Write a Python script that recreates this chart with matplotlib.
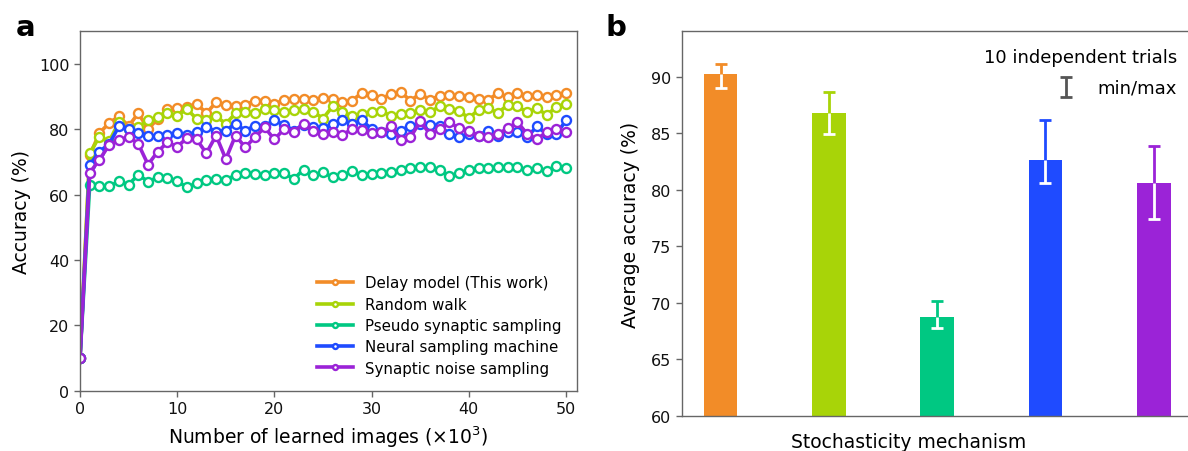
import numpy as np
import matplotlib
matplotlib.use('Agg')
import matplotlib.pyplot as plt

#training curves, one point per thousand learned images
n_images = list(range(0, 51))
delay_model = [10, 72.0, 78.9, 81.9, 84.0, 81.0, 84.9, 80.1, 83.2, 86.2, 86.5, 86.7, 87.9,
               84.9, 88.3, 87.5, 87.1, 87.5, 88.8, 88.8, 87.8, 89.0, 89.2, 89.4, 89.0, 89.6,
               89.3, 88.3, 88.8, 91.2, 90.4, 89.3, 90.9, 91.4, 88.8, 90.9, 89.0, 90.3, 90.5,
               90.3, 90.0, 89.4, 89.0, 91.1, 89.8, 91.1, 90.3, 90.4, 89.8, 90.4, 91.0]
random_walk = [10, 72.6, 77.8, 76.3, 82.2, 80.0, 80.8, 82.7, 83.7, 84.9, 84.2, 86.2, 83.2,
               82.9, 84.0, 81.7, 84.9, 85.2, 84.9, 86.2, 85.9, 85.4, 85.9, 86.2, 85.4, 83.3,
               87.1, 85.2, 84.2, 84.7, 85.4, 85.7, 84.0, 84.7, 84.9, 86.0, 85.2, 87.1, 86.2,
               85.7, 83.4, 86.0, 86.5, 85.0, 87.5, 87.1, 85.2, 86.5, 84.4, 86.8, 87.8]
pseudo_sampling = [10, 63.1, 62.5, 62.5, 64.1, 63.1, 66.1, 64.0, 65.3, 65.1, 64.1, 62.3, 63.5,
                   64.5, 64.8, 64.5, 66.0, 66.7, 66.4, 66.0, 66.7, 66.6, 64.8, 67.7, 66.0, 66.8,
                   65.3, 66.0, 67.1, 66.0, 66.4, 66.6, 66.9, 67.4, 68.1, 68.4, 68.4, 67.7, 65.6,
                   66.7, 67.4, 68.1, 68.1, 68.4, 68.4, 68.4, 67.4, 68.1, 67.1, 68.9, 68.1]
neural_sampling = [10, 69.1, 73.2, 75.5, 80.9, 80.1, 78.9, 78.1, 77.9, 78.4, 78.9, 78.3, 79.1,
                   80.8, 79.3, 79.6, 81.7, 79.6, 81.1, 81.1, 82.7, 81.4, 79.6, 81.4, 80.8, 80.4,
                   81.6, 82.7, 81.7, 82.7, 80.1, 79.1, 78.6, 79.6, 81.1, 81.7, 81.4, 81.1, 78.6,
                   77.6, 78.6, 78.1, 79.6, 78.1, 79.1, 79.1, 77.6, 80.9, 78.6, 78.6, 82.7]
noise_sampling = [10, 66.7, 70.7, 75.2, 76.6, 77.8, 75.5, 69.2, 73.2, 76.0, 74.7, 77.3, 76.9,
                  72.7, 78.1, 70.9, 78.1, 74.5, 77.6, 80.6, 76.9, 80.1, 79.3, 81.7, 79.6, 78.6,
                  79.3, 78.3, 80.1, 79.8, 78.8, 79.1, 80.9, 76.6, 77.6, 82.4, 78.6, 80.1, 82.2,
                  80.3, 79.6, 78.1, 77.6, 78.6, 80.3, 82.2, 78.6, 77.0, 79.1, 80.1, 79.1]

labels = ['Delay model (This work)', 'Random walk', 'Pseudo synaptic sampling',
          'Neural sampling machine', 'Synaptic noise sampling']
colors = ['#F28C28', '#A8D408', '#00C882', '#1F4BFF', '#9B23D7']

#average accuracy over 10 trials with min/max
avg_acc = [90.2, 86.8, 68.75, 82.6, 80.6]
min_acc = [89.0, 84.9, 67.8, 80.6, 77.4]
max_acc = [91.1, 88.6, 70.2, 86.2, 83.9]

plt.rcParams['font.family'] = 'DejaVu Sans'
spine_color = '#666666'

fig = plt.figure(figsize=(11.88, 4.52), dpi=100)

#panel a: accuracy during learning
ax1 = fig.add_axes([80/1188, 1 - 391.7/452, 496.7/1188, 359.4/452])
curves = [delay_model, random_walk, pseudo_sampling, neural_sampling, noise_sampling]
for vals, lab, c in zip(curves, labels, colors):
    ax1.plot(n_images, vals, '-o', color=c, lw=2.6, ms=6.5, mfc='white', mec=c,
             mew=1.7, label=lab)
ax1.set_xlim(0, 51.1)
ax1.set_ylim(0, 110)
ax1.set_xticks([0, 10, 20, 30, 40, 50])
ax1.set_yticks([0, 20, 40, 60, 80, 100])
ax1.set_xlabel('Number of learned images (×10$^{3}$)', fontsize=13.5, labelpad=5)
ax1.set_ylabel('Accuracy (%)', fontsize=13.5, labelpad=6)
ax1.legend(loc='lower right', frameon=False, fontsize=10.8, markerscale=0.55,
           handlelength=2.4, labelspacing=0.42, borderaxespad=0.6)

#panel b: final accuracy per mechanism
ax2 = fig.add_axes([681.7/1188, 1 - 417/452, 508.3/1188, 384.7/452])
xpos = np.arange(len(avg_acc))
ax2.bar(xpos, [a - 60 for a in avg_acc], bottom=60, width=0.31, color=colors, zorder=2)
for i in range(len(avg_acc)):
    up = ax2.errorbar(xpos[i], avg_acc[i], yerr=[[0], [max_acc[i] - avg_acc[i]]],
                      fmt='none', ecolor=colors[i], elinewidth=2, capsize=4,
                      capthick=2, zorder=3)
    up[1][0].set_visible(False)
    down = ax2.errorbar(xpos[i], avg_acc[i], yerr=[[avg_acc[i] - min_acc[i]], [0]],
                        fmt='none', ecolor='white', elinewidth=2, capsize=4,
                        capthick=2, zorder=3)
    down[1][1].set_visible(False)

#key for the error bars
ax2.errorbar([0.756], [0.855], yerr=[0.026], transform=ax2.transAxes, fmt='none',
             ecolor='#555555', elinewidth=2, capsize=4, capthick=2, clip_on=False)
ax2.text(0.974, 0.933, '10 independent trials', transform=ax2.transAxes,
         ha='right', va='center', fontsize=13)
ax2.text(0.974, 0.855, 'min/max', transform=ax2.transAxes,
         ha='right', va='center', fontsize=13)

ax2.set_xlim(-0.36, 4.335)
ax2.set_ylim(60, 94)
ax2.set_xticks([])
ax2.set_yticks([60, 65, 70, 75, 80, 85, 90])
ax2.set_ylabel('Average accuracy (%)', fontsize=13.5, labelpad=8)
ax2.set_xlabel('Stochasticity mechanism', fontsize=13.5)
ax2.xaxis.set_label_coords(0.446, -0.042)
ax2.spines['right'].set_visible(False)

for ax in (ax1, ax2):
    for s in ax.spines.values():
        s.set_color(spine_color)
        s.set_linewidth(1.0)
    ax.tick_params(colors=spine_color, labelcolor='#111111', labelsize=11.5,
                   length=4, width=1)

fig.text(16/1188, 1 - 36/452, 'a', fontsize=21, fontweight='bold')
fig.text(606/1188, 1 - 36/452, 'b', fontsize=21, fontweight='bold')

fig.savefig('out.png', dpi=100)
